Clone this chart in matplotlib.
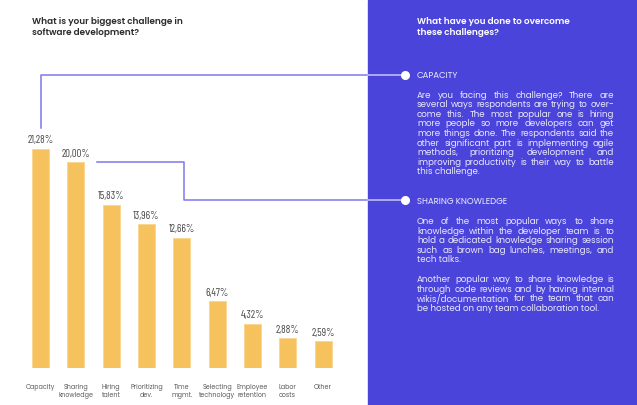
import matplotlib
matplotlib.use("Agg")
import matplotlib.pyplot as plt
from matplotlib import font_manager
from matplotlib.patches import Rectangle

categories = ["Capacity", "Sharing\nknowledge", "Hiring\ntalent", "Prioritizing\ndev.",
              "Time\nmgmt.", "Selecting\ntechnology", "Employee\nretention", "Labor\ncosts", "Other"]
values = [21.28, 20.00, 15.83, 13.96, 12.66, 6.47, 4.32, 2.88, 2.59]
value_labels = ["21,28%", "20,00%", "15,83%", "13,96%", "12,66%", "6,47%", "4,32%", "2,88%", "2,59%"]

left_title = "What is your biggest challenge in\nsoftware development?"
right_title = "What have you done to overcome\nthese challenges?"
capacity_head = "CAPACITY"
capacity_text = [
    "Are you facing this challenge? There are",
    "several ways respondents are trying to over-",
    "come this. The most popular one is hiring",
    "more people so more developers can get",
    "more things done. The respondents said the",
    "other significant part is implementing agile",
    "methods, prioritizing development and",
    "improving productivity is their way to battle",
    "this challenge.",
]
sharing_head = "SHARING KNOWLEDGE"
sharing_text1 = [
    "One of the most popular ways to share",
    "knowledge within the developer team is to",
    "hold a dedicated knowledge sharing session",
    "such as brown bag lunches, meetings, and",
    "tech talks.",
]
sharing_text2 = [
    "Another popular way to share knowledge is",
    "through code reviews and by having internal",
    "wikis/documentation for the team that can",
    "be hosted on any team collaboration tool.",
]

PURPLE = "#4b44db"
LINE = "#7d76ec"
BAR = "#f5c25e"
PANEL_TXT = "#e9e7fb"


def face(options, allow_variable=False):
    # first static face of the listed families, nearest to the wanted weight
    for family, weight in options:
        cands = [f for f in font_manager.fontManager.ttflist
                 if f.name == family and f.style == "normal"
                 and (allow_variable or "[" not in f.fname)]
        if cands:
            best = min(cands, key=lambda f: abs(int(f.weight) - weight))
            return font_manager.FontProperties(fname=best.fname)
    return None


body = face([("Montserrat", 400), ("Poppins", 400)]) or font_manager.FontProperties(family="DejaVu Sans")
bold = face([("Montserrat", 600), ("Poppins", 600)]) or font_manager.FontProperties(family="DejaVu Sans", weight="bold")
narrow = (face([("Barlow Condensed", 400), ("Roboto Condensed", 400), ("Asap Condensed", 400),
                ("Archivo Narrow", 400)])
          or face([("Oswald", 300), ("Antonio", 300)], allow_variable=True)
          or font_manager.FontProperties(family="DejaVu Sans"))

W, H = 637, 405
fig = plt.figure(figsize=(W / 100, H / 100), dpi=100)

# background axes in pixel coordinates
bg = fig.add_axes([0, 0, 1, 1])
bg.set_xlim(0, W)
bg.set_ylim(H, 0)
bg.axis("off")
bg.add_patch(Rectangle((368, 0), W - 368, H, color=PURPLE, zorder=0))

# bar axes
ax = fig.add_axes([23.0 / W, 37.0 / H, 317.7 / W, 226.6 / H], facecolor="none")
x = list(range(len(values)))
ax.bar(x, values, width=0.48, color=BAR, edgecolor="#f9d590", linewidth=0.6, zorder=2)
ax.set_xlim(-0.5, len(values) - 0.5)
ax.set_ylim(0, 22)
ax.axis("off")


def txt(target, *args, props=None, size=6, **kw):
    t = target(*args, **kw)
    t.set_fontproperties(props)
    t.set_fontsize(size)
    return t


for i, (v, lab) in enumerate(zip(values, value_labels)):
    txt(ax.annotate, lab, (i, v), xytext=(0, 2.5), textcoords="offset points", ha="center",
        va="bottom", color="#4a4a4a", annotation_clip=False, props=narrow, size=7.8)
    txt(ax.annotate, categories[i], (i, 0), xytext=(0, -11.5), textcoords="offset points",
        ha="center", va="top", color="#5a5a5a", linespacing=1.3, annotation_clip=False,
        props=body, size=4.6)


def to_px(xd, yd):
    dx, dy = ax.transData.transform((xd, yd))
    return dx, H - dy


# connector: capacity
cx, ctop = to_px(0, values[0])
bg.plot([cx, cx, 368], [ctop - 21, 75, 75], color=LINE, lw=1.1, zorder=3)
bg.plot([368, 405], [75, 75], color="#c9c6f6", lw=1.1, zorder=3)
bg.plot(405, 75, "o", color="white", ms=5.5, zorder=4)

# connector: sharing knowledge
sx, stop = to_px(1 + 0.24, values[1])
bg.plot([sx + 13, 184, 184, 368], [stop, stop, 200, 200], color=LINE, lw=1.1, zorder=3)
bg.plot([368, 405], [200, 200], color="#c9c6f6", lw=1.1, zorder=3)
bg.plot(405, 200, "o", color="white", ms=5.5, zorder=4)

# titles
txt(bg.text, 32, 17.5, left_title, ha="left", va="top", color="#2b2b2b", linespacing=1.2,
    props=bold, size=6.4)
txt(bg.text, 417, 17.5, right_title, ha="left", va="top", color="white", linespacing=1.2,
    props=bold, size=6.4)
txt(bg.text, 417, 75, capacity_head, ha="left", va="center", color=PANEL_TXT, props=body, size=6.2)
txt(bg.text, 417, 201, sharing_head, ha="left", va="center", color=PANEL_TXT, props=body, size=6.2)

renderer = fig.canvas.get_renderer()
X0, X1 = 417, 614

# font size so that the longest line fits the column
probe = txt(bg.text, 0, 0, "", props=body, size=6)
longest = 0
for ln in capacity_text + sharing_text1 + sharing_text2:
    probe.set_text(ln)
    longest = max(longest, probe.get_window_extent(renderer).width)
probe.remove()
BODY_SIZE = min(6.6, 6 * (X1 - X0) * 0.99 / longest)


def justified(lines, x0, x1, y0, dy, size):
    for k, line in enumerate(lines):
        y = y0 + k * dy
        kw = dict(ha="left", va="center", color=PANEL_TXT, props=body, size=size)
        if k == len(lines) - 1:
            txt(bg.text, x0, y, line, **kw)
            continue
        words = line.split()
        objs = [txt(bg.text, 0, y, w, **kw) for w in words]
        widths = [o.get_window_extent(renderer).width for o in objs]
        gap = (x1 - x0 - sum(widths)) / (len(words) - 1)
        pos = x0
        for o, w in zip(objs, widths):
            o.set_x(pos)
            pos += w + gap


justified(capacity_text, X0, X1, 95, 9.6, BODY_SIZE)
justified(sharing_text1, X0, X1, 221.5, 9.6, BODY_SIZE)
justified(sharing_text2, X0, X1, 279.5, 9.6, BODY_SIZE)

fig.savefig("out.png", dpi=100)
